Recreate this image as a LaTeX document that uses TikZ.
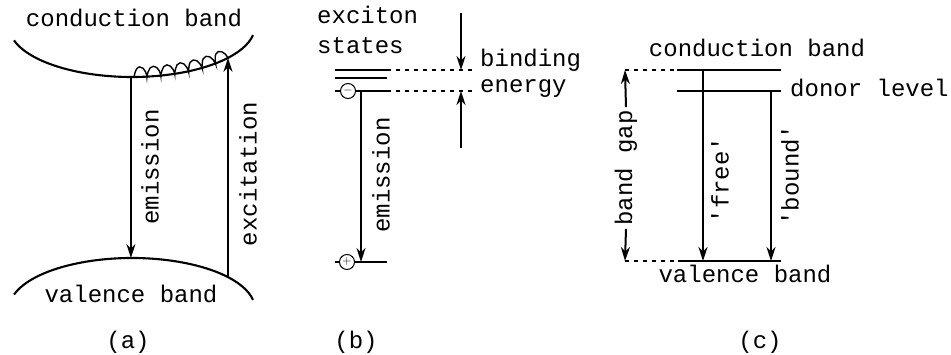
\documentclass[tikz,border=0pt]{standalone}
\usepackage{fontspec}
\newfontfamily\mono{Liberation Mono}
\usetikzlibrary{arrows.meta,decorations.pathmorphing,calc}
\begin{document}
\begin{tikzpicture}[x=1pt,y=-1pt,
  lbl/.style={font=\mono\fontsize{24}{28}\selectfont, inner sep=0pt},
  band/.style={line width=2.1pt},
  lvl/.style={line width=2.1pt},
  thinlvl/.style={line width=1.6pt},
  arr/.style={line width=2pt, -{Stealth[length=14pt,width=9pt]}},
  dots/.style={line width=1.5pt, dash pattern=on 4pt off 5pt},
  sign/.style={circle, draw, fill=white, line width=1pt, inner sep=0pt, minimum size=15pt, font=\fontsize{12}{12}\selectfont}]
\useasboundingbox (0,0) rectangle (951,355);

% ---------- (a) ----------
\coordinate (cc) at (132,26);
\coordinate (vc) at (132,309);
\draw[band] (cc) ++(163.6:123 and 51) arc[start angle=163.6,end angle=10.3,x radius=123,y radius=51];
\draw[band] (vc) ++(196.4:123 and 51) arc[start angle=196.4,end angle=349.7,x radius=123,y radius=51];
\coordinate (emA) at ($(cc)+(90.5:123 and 51)$);
\coordinate (emB) at ($(vc)+(-90.5:123 and 51)$);
\coordinate (exA) at ($(vc)+(-38.7:123 and 51)$);
\coordinate (exB) at ($(cc)+(38.7:123 and 51)$);
\draw[arr] (emA) -- (emB);
\draw[arr] (exA) -- (exB);
\draw[line width=1.4pt, decorate, decoration={coil,amplitude=5pt,segment length=14pt,aspect=0.45,raise=5pt}]
  (cc) ++(89:123 and 51) arc[start angle=89,end angle=38.7,x radius=123,y radius=51];
\node[lbl, anchor=base] (cbA) at (134,27) {conduction band};
\node[lbl, anchor=base] (vbA) at (131,303) {valence band};
\node[lbl, rotate=90] (emlA) at (150,167) {emission};
\node[lbl, rotate=90] (exlA) at (248,174) {excitation};
\node[lbl, anchor=base] (capA) at (128,349) {(a)};

% ---------- (b) ----------
\coordinate (x1L) at (335,70); \coordinate (x1R) at (387,70);
\coordinate (x2L) at (335,78); \coordinate (x2R) at (387,78);
\coordinate (x3L) at (335,91); \coordinate (x3R) at (387,91);
\coordinate (x4L) at (335,262); \coordinate (x4R) at (387,262);
\draw[lvl] (x1L) -- (x1R);
\draw[thinlvl] (x2L) -- (x2R);
\draw[lvl] (x3L) -- (x3R);
\draw[lvl] (x4L) -- (x4R);
\coordinate (eb1) at (361,91); \coordinate (eb2) at (361,262);
\draw[arr] (eb1) -- (eb2);
\node[sign] (minus) at (348,91) {$-$};
\node[sign] (plus) at (347,262) {$+$};
\coordinate (d1) at (475,70); \coordinate (d2) at (475,91);
\draw[dots] (x1R) -- (d1);
\draw[dots] (x3R) -- (d2);
\coordinate (ba0) at (461,13); \coordinate (ba1) at (461,70);
\coordinate (bb0) at (461,148); \coordinate (bb1) at (461,91);
\draw[arr] (ba0) -- (ba1);
\draw[arr] (bb0) -- (bb1);
\node[lbl, anchor=base west] (bind) at (480,67) {binding};
\node[lbl, anchor=base west] (ener) at (480,93) {energy};
\node[lbl, anchor=base west] (exc) at (317,24) {exciton};
\node[lbl, anchor=base west] (sts) at (317,54) {states};
\node[lbl, rotate=90] (emlB) at (381,175) {emission};
\node[lbl, anchor=base] (capB) at (356,349) {(b)};

% ---------- (c) ----------
\coordinate (cbL) at (677,70); \coordinate (cbR) at (781,70);
\coordinate (dlL) at (677,91); \coordinate (dlR) at (781,91);
\coordinate (vbL) at (678,261); \coordinate (vbR) at (781,261);
\draw[lvl] (cbL) -- (cbR);
\draw[thinlvl] (dlL) -- (dlR);
\draw[lvl] (vbL) -- (vbR);
\coordinate (fr0) at (703,70); \coordinate (fr1) at (703,261);
\coordinate (bo0) at (771,91); \coordinate (bo1) at (771,261);
\draw[arr] (fr0) -- (fr1);
\draw[arr] (bo0) -- (bo1);
\coordinate (bgT) at (625,70); \coordinate (bgB) at (625,261);
\draw[dots] (bgT) -- (cbL);
\draw[dots] (bgB) -- (vbL);
\node[lbl, rotate=90, inner sep=3pt] (bg) at (626,168) {band gap};
\draw[arr] (bg.east) -- (bgT);
\draw[arr] (bg.west) -- (bgB);
\node[lbl, anchor=base] (cbC) at (757,57) {conduction band};
\node[lbl, anchor=base west] (dlC) at (790,97) {donor level};
\node[lbl, anchor=base] (vbC) at (745,283) {valence band};
\node[lbl, rotate=90] (frl) at (720,180) {\textquotesingle free\textquotesingle};
\node[lbl, rotate=90] (bol) at (790,175) {\textquotesingle bound\textquotesingle};
\node[lbl, anchor=base] (capC) at (760,349) {(c)};
\end{tikzpicture}
\end{document}
